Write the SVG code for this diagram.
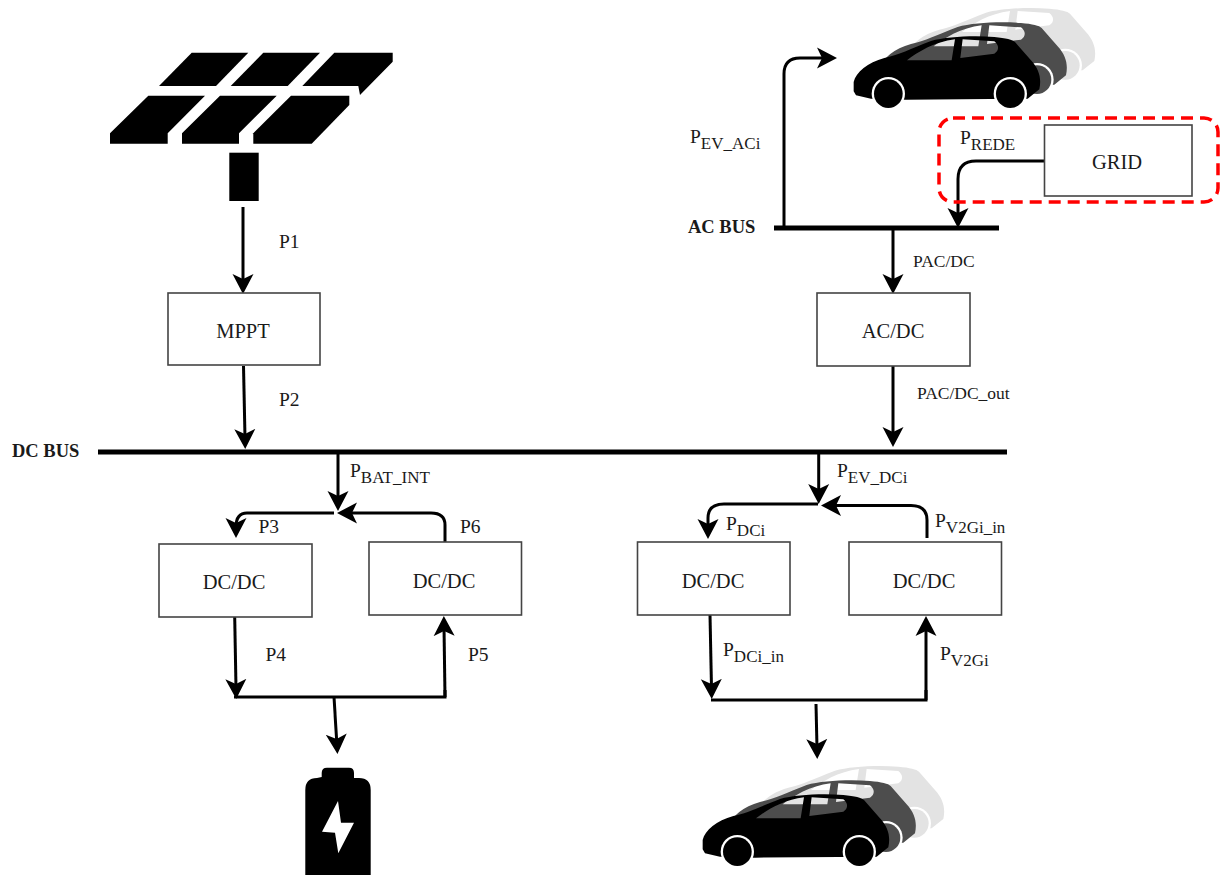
<svg xmlns="http://www.w3.org/2000/svg" width="1226" height="875" viewBox="0 0 1226 875">
<style>
text{font-family:"Liberation Serif","Times New Roman",serif;fill:#1a1a1a}
.box{fill:#fff;stroke:#444;stroke-width:1.6}
.lbl{font-size:20.5px;text-anchor:middle}
.p{font-size:19.5px}
.q{font-size:17.5px}
.s{font-size:17px}
.bus{font-size:18.5px;font-weight:bold}
.c{fill:none;stroke:#000;stroke-width:3}
.a{marker-end:url(#ah)}
.b{fill:none;stroke:#000;stroke-width:5}
</style>
<defs>
<marker id="ah" markerUnits="userSpaceOnUse" viewBox="0 -11 20 22" refX="9" refY="0" markerWidth="20" markerHeight="22" orient="auto">
<path d="M0,-10.5 L20,0 L0,10.5 L5,0Z" fill="#000"/>
</marker>
<g id="car">
<path fill-rule="evenodd" d="M68 270C75 240 110 212 160 198C200 190 240 170 300 147C345 135 420 130 490 135C525 138 545 143 552 150L600 205C625 232 632 260 625 292L590 320L225 323L120 320L75 310L68 298ZM228 205C260 180 310 150 372 142L362 205ZM395 142L490 148C505 160 505 175 490 185L388 198Z"/>
<circle cx="172" cy="305" r="50" fill="#fff"/><circle cx="172" cy="305" r="43"/>
<circle cx="538" cy="305" r="50" fill="#fff"/><circle cx="538" cy="305" r="43"/>
</g>
<g id="cars">
<use href="#car" transform="translate(165,-85)" fill="#e3e3e3"/>
<use href="#car" transform="translate(80,-42)" fill="#4d4d4d"/>
<use href="#car" fill="#000"/>
</g>
</defs>

<g id="connectors">
<path class="c a" d="M243 207V283"/>
<path class="c a" d="M243.500 366L245 438"/>
<path class="c a" d="M893 366V436"/>
<path class="c a" d="M893 230V283"/>
<path class="c a" d="M784 228V74Q784 58 800 58H826"/>
<path class="c a" d="M1044 161H976Q958 161 958 179V217"/>
<path class="c a" d="M338 452V500"/>
<path class="c a" d="M334 513H247Q236 513 236 527"/>
<path class="c a" d="M445 542V525Q445 513 431 513H348"/>
<path class="c a" d="M234.700 617L236 688"/>
<path class="c" d="M234 697H445V690"/>
<path class="c a" d="M445 697L444 627"/>
<path class="c a" d="M334 697L336.800 743"/>
<path class="c a" d="M818.700 452V493"/>
<path class="c a" d="M818 504H724Q708 504 708 518V528"/>
<path class="c a" d="M927 538V520Q927 505.500 911 505.500H832"/>
<path class="c a" d="M710 615L711.500 688"/>
<path class="c" d="M711 700H926V690"/>
<path class="c a" d="M926 700V627"/>
<path class="c a" d="M816 704L817 748"/>
<path class="b" d="M774 228H999"/>
<path class="b" d="M98 452H1007"/>
</g>

<g id="solar-panel" fill="#000">
<path d="M191.700 52.700H248.300L216 86H159Z"/>
<path d="M263.300 52.700H320L287.700 86H230.700Z"/>
<path d="M334.300 52.700H392.700V61.700L360 95L358.300 86H302.300Z"/>
<path d="M148.300 95.700H205L167.700 133.300V143.700H110V133.300Z"/>
<path d="M220 95.700H276.700L239 133.300V143.700H182V133.300Z"/>
<path d="M291 95.700H349.300V105L311.700 143.700H253.300V133.300Z"/>
<rect x="229.300" y="152.700" width="29.400" height="48.300"/>
</g>

<g id="ev-top"><use href="#cars" transform="translate(831,-8) scale(.3333)"/></g>
<g id="ev-bottom"><use href="#cars" transform="translate(680,750) scale(.3333)"/></g>

<g id="battery">
<path d="M321.700 777V773Q321.700 767.700 327 767.700H349Q354 767.700 354 773V778H359Q370.700 778 370.700 790V875H305.300V790Q305.300 778 317 778Z"/>
<path fill="#fff" d="M338 801L322 831.700L335 832.700L338.300 853.300L354 822.700L341 822.700Z"/>
</g>

<g id="grid-zone">
<rect x="939" y="118" width="279" height="84" rx="14" fill="none" stroke="#f00" stroke-width="3.500" stroke-dasharray="12 7"/>
</g>
<g id="grid"><rect class="box" x="1044.500" y="125" width="147.500" height="71"/><text class="lbl" x="1117" y="169">GRID</text></g>
<g id="mppt"><rect class="box" x="168" y="293" width="152" height="72"/><text class="lbl" x="243" y="338">MPPT</text></g>
<g id="acdc"><rect class="box" x="817" y="293" width="153" height="73"/><text class="lbl" x="893" y="338">AC/DC</text></g>
<g id="dcdc1"><rect class="box" x="159" y="544" width="153" height="73"/><text class="lbl" x="234" y="589">DC/DC</text></g>
<g id="dcdc2"><rect class="box" x="369" y="542" width="152.500" height="73"/><text class="lbl" x="444" y="588">DC/DC</text></g>
<g id="dcdc3"><rect class="box" x="637.500" y="542" width="152.500" height="73"/><text class="lbl" x="713" y="588">DC/DC</text></g>
<g id="dcdc4"><rect class="box" x="849" y="542" width="152.500" height="73"/><text class="lbl" x="924" y="588">DC/DC</text></g>

<g id="labels">
<text class="bus" x="688" y="233">AC BUS</text>
<text class="bus" x="12" y="457">DC BUS</text>
<text class="p" x="279" y="248">P1</text>
<text class="p" x="279" y="406">P2</text>
<text class="p" x="258.500" y="533">P3</text>
<text class="p" x="265.500" y="661">P4</text>
<text class="p" x="468" y="661">P5</text>
<text class="p" x="460" y="533">P6</text>
<text class="q" x="913" y="267">PAC/DC</text>
<text class="q" x="917" y="399">PAC/DC_out</text>
<text class="p" x="690" y="143">P<tspan class="s" dy="6">EV_ACi</tspan></text>
<text class="p" x="960" y="144">P<tspan class="s" dy="6">REDE</tspan></text>
<text class="p" x="350" y="477">P<tspan class="s" dy="6">BAT_INT</tspan></text>
<text class="p" x="837" y="477">P<tspan class="s" dy="6">EV_DCi</tspan></text>
<text class="p" x="726" y="530">P<tspan class="s" dy="6">DCi</tspan></text>
<text class="p" x="935" y="527">P<tspan class="s" dy="6">V2Gi_in</tspan></text>
<text class="p" x="723" y="656">P<tspan class="s" dy="6">DCi_in</tspan></text>
<text class="p" x="940" y="660">P<tspan class="s" dy="6">V2Gi</tspan></text>
</g>
</svg>
